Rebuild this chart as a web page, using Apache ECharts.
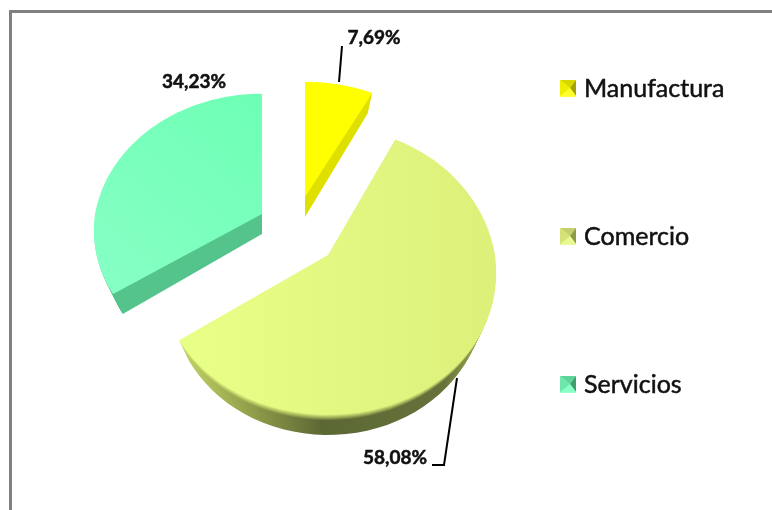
<!DOCTYPE html>
<html>

<head>
    <meta charset="utf-8" />
    <style type="text/css">
        html, body { margin: 0; padding: 0; background: #fff; overflow: hidden; }
        #frame {
            position: absolute; left: 9px; top: 10px; width: 800px; height: 600px;
            border: 3px solid #808080; box-sizing: border-box;
        }
        #main { position: absolute; left: 0; top: 0; width: 772px; height: 510px; }
    </style>
    <script src="https://cdn.jsdelivr.net/npm/echarts@6/dist/echarts.min.js"></script>
</head>

<body>
    <div id="frame"></div>
    <div id="main"></div>
    <script type="text/javascript">
        var categories = ["Manufactura", "Comercio", "Servicios"];
        var shares = [7.69, 58.08, 34.23];
        var labels = ["7,69%", "58,08%", "34,23%"];

        // look of each slice: exploded apex, squash of far and near side, wall depth
        var apexX = [305, 328, 262];
        var apexY = [197, 255, 214];
        var squashFar = [0.9, 1, 0.94];
        var squashNear = [1, 1, 0.94];
        var depth = [20, 20, 20];
        var topFill = ["#ffff00", "#e2f67e", "#7dffbe"];
        var wallFill = ["#e0e000", "#66723a", "#55c48c"];
        var labelX = [374, 395, 194];
        var labelY = [38, 458, 82];
        var leaderLines = [
            [[339, 82], [342, 46]],
            [[457, 378], [444, 465], [432, 465]],
            []
        ];
        // legend key faces: top, right, bottom, left
        var keyFaces = [
            ["#d8d800", "#a4a400", "#ffff30", "#eeee00"],
            ["#c4d070", "#8d9a4a", "#eaf890", "#d4e278"],
            ["#5fd49a", "#3f9f70", "#8affc8", "#6ee6ac"]
        ];
        var keyX = 560;
        var keyY = [80, 228, 376];
        var keySize = 16;

        var total = shares.reduce(function (a, b) { return a + b; }, 0);

        function mix(a, b, t) {
            var pa = parseInt(a.slice(1), 16), pb = parseInt(b.slice(1), 16);
            var out = [16, 8, 0].map(function (s) {
                var ca = (pa >> s) & 255, cb = (pb >> s) & 255;
                return Math.round(ca + (cb - ca) * t);
            });
            return "rgb(" + out.join(",") + ")";
        }

        // tilted disc: the near side is wider and taller than the far side,
        // lower layers pull in towards the apex so the wall tapers at the tips
        function slicePoints(i, from, to, drop) {
            var pts = [[apexX[i], apexY[i] + drop]];
            var pull = 1 - 0.065 * drop / depth[i];
            for (var a = from; a <= to + 0.0001; a += (to - from) / 60) {
                var u = Math.sin(a), v = -Math.cos(a);
                var rx = 167 * (1 + (v < 0 ? 0.15 : 0.12) * v);
                var ry = v < 0 ? (150 + 22 * v) * squashFar[i] : (150 + 10 * v) * squashNear[i];
                pts.push([apexX[i] + rx * u * pull, apexY[i] + ry * v + drop]);
            }
            return pts;
        }

        function makeRender(i) {
            return function (params, api) {
                var before = 0;
                for (var k = 0; k < i; k++) before += shares[k];
                var from = before / total * Math.PI * 2;
                var to = from + api.value(0) / total * Math.PI * 2;
                var children = [];

                for (var d = depth[i]; d >= 1; d--) {
                    var fill = wallFill[i];
                    if (i === 1) {
                        // Comercio wall fades from light at the left tip to dark olive
                        var t = d < 6 ? 1 - d / 6 : 0;
                        fill = new echarts.graphic.LinearGradient(0, 0, 1, 0, [
                            { offset: 0, color: mix("#c0d064", "#e2f67e", t) },
                            { offset: 0.2, color: mix("#95a24c", "#e2f67e", t) },
                            { offset: 0.45, color: mix("#5c6834", "#e2f67e", t) },
                            { offset: 0.85, color: mix("#66723a", "#e2f67e", t) },
                            { offset: 1, color: mix("#a8b858", "#e2f67e", t) }
                        ]);
                    }
                    children.push({
                        type: "polygon",
                        shape: { points: slicePoints(i, from, to, d) },
                        style: { fill: fill }
                    });
                }

                var top = topFill[i];
                if (i === 1) {
                    top = new echarts.graphic.LinearGradient(0, 0, 1, 0, [
                        { offset: 0, color: "#e8ff88" },
                        { offset: 1, color: "#dcf07a" }
                    ]);
                }
                if (i === 2) {
                    top = new echarts.graphic.LinearGradient(0, 1, 1, 0, [
                        { offset: 0, color: "#88ffc6" },
                        { offset: 1, color: "#6dffb4" }
                    ]);
                }
                children.push({
                    type: "polygon",
                    shape: { points: slicePoints(i, from, to, 0) },
                    style: { fill: top }
                });

                if (leaderLines[i].length) {
                    children.push({
                        type: "polyline",
                        shape: { points: leaderLines[i] },
                        style: { fill: null, stroke: "#000", lineWidth: 2 }
                    });
                }
                children.push({
                    type: "text",
                    style: {
                        x: labelX[i],
                        y: labelY[i],
                        text: labels[i],
                        fill: "#111",
                        stroke: "#111",
                        lineWidth: 0.5,
                        font: "bold 19px Lato, sans-serif",
                        textAlign: "center",
                        textVerticalAlign: "middle"
                    }
                });
                return { type: "group", children: children };
            };
        }

        // bevelled legend keys laid over the legend's own squares
        function keyGraphics() {
            var out = [];
            categories.forEach(function (name, i) {
                var x0 = keyX, y0 = keyY[i], x1 = keyX + keySize, y1 = keyY[i] + keySize;
                var cx = keyX + keySize / 2 + 2, cy = keyY[i] + keySize / 2;
                var faces = [
                    [[x0, y0], [x1, y0], [cx, cy]],
                    [[x1, y0], [x1, y1], [cx, cy]],
                    [[x1, y1], [x0, y1], [cx, cy]],
                    [[x0, y1], [x0, y0], [cx, cy]]
                ];
                faces.forEach(function (pts, f) {
                    out.push({
                        type: "polygon",
                        silent: true,
                        z: 10,
                        shape: { points: pts },
                        style: { fill: keyFaces[i][f] }
                    });
                });
            });
            return out;
        }

        var myChart = echarts.init(document.getElementById("main"), null, { renderer: "canvas" });

        var option = {
            animation: false,
            backgroundColor: "transparent",
            graphic: keyGraphics(),
            legend: {
                orient: "vertical",
                left: 555,
                top: 71,
                itemWidth: 16,
                itemHeight: 16,
                itemGap: 122.5,
                icon: "rect",
                textStyle: {
                    fontFamily: "Lato, sans-serif",
                    fontSize: 25,
                    color: "#111",
                    padding: [0, 0, 0, 3],
                    textBorderColor: "#111",
                    textBorderWidth: 0.5
                },
                data: categories
            },
            series: categories.map(function (name, i) {
                return {
                    name: name,
                    type: "custom",
                    coordinateSystem: "none",
                    silent: true,
                    itemStyle: { color: topFill[i] },
                    renderItem: makeRender(i),
                    data: [shares[i]]
                };
            })
        };

        myChart.setOption(option);
    </script>
</body>

</html>
